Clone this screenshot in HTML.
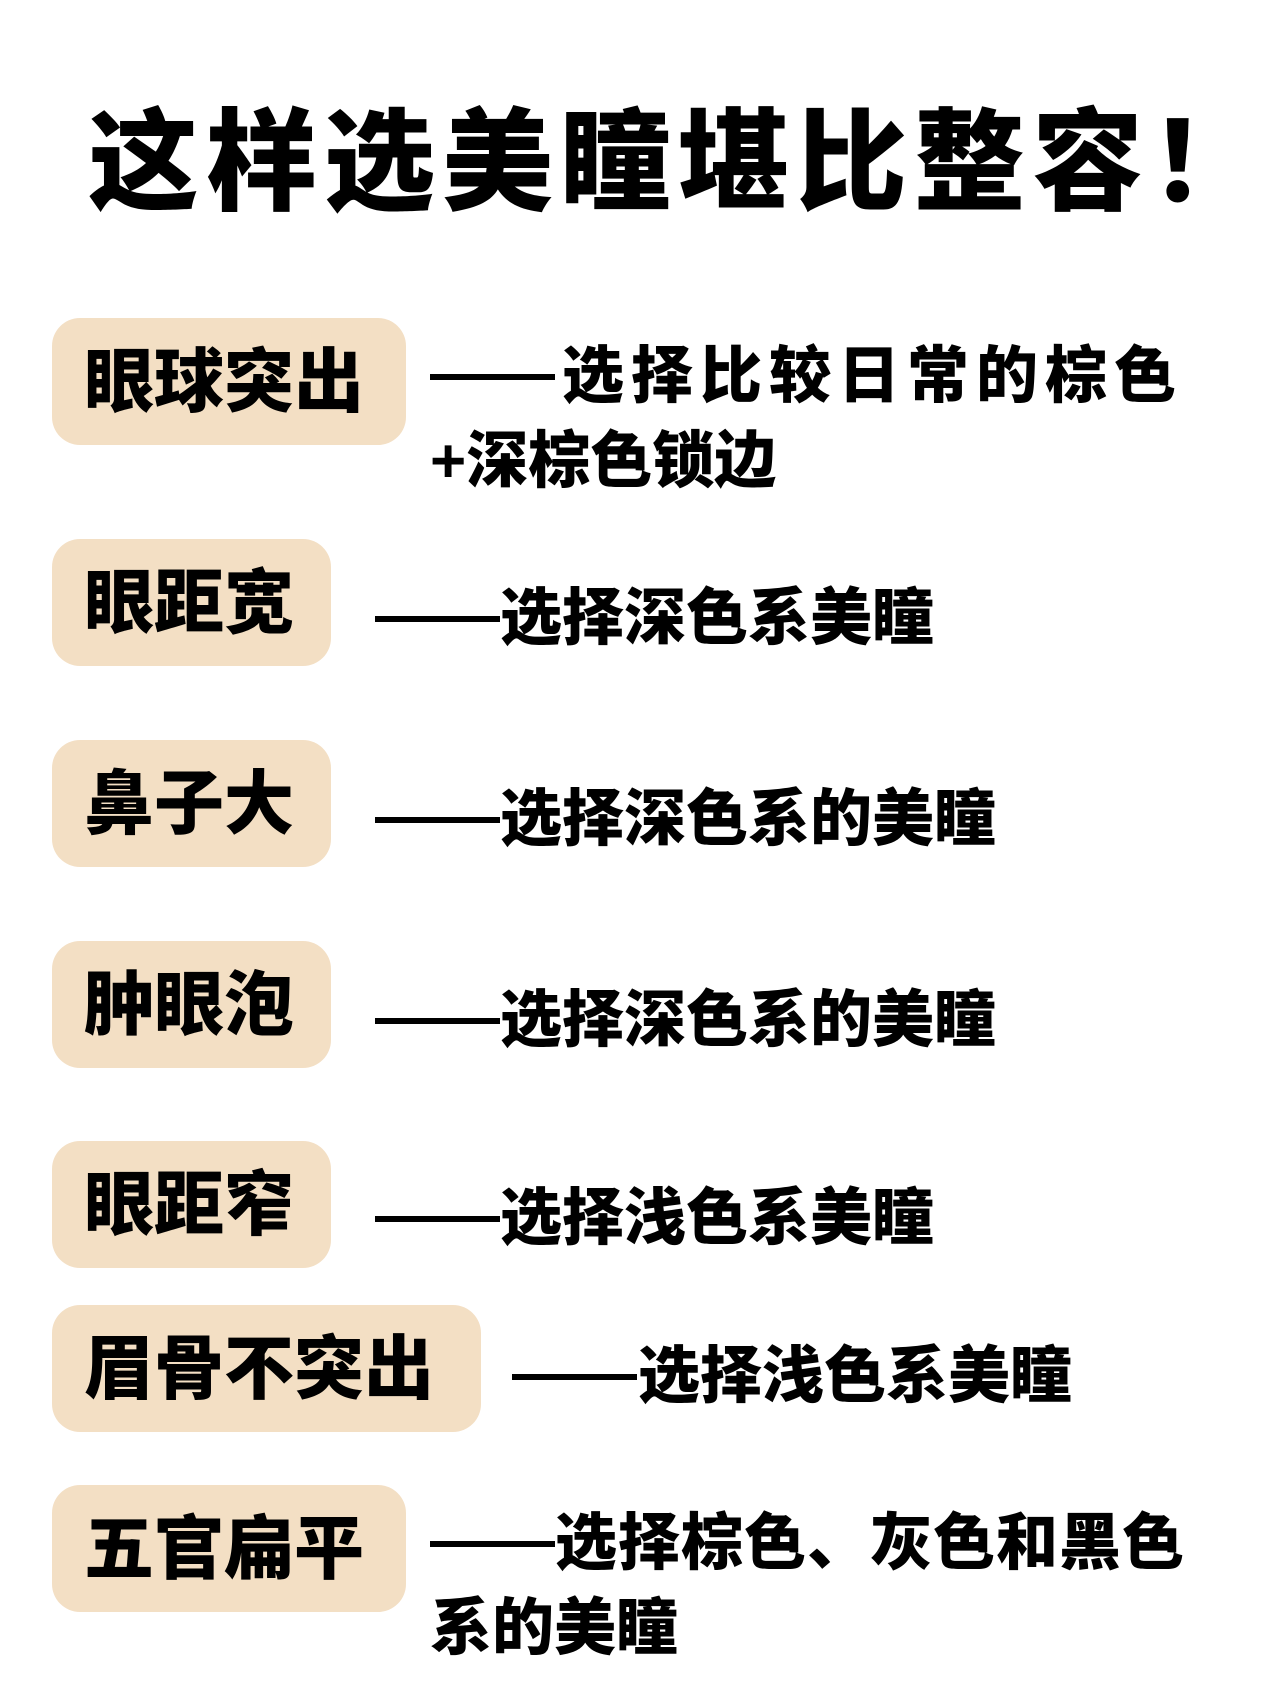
<!DOCTYPE html>
<html><head><meta charset="utf-8"><style>
html,body{margin:0;padding:0;background:#fff;}
body{width:1280px;height:1706px;position:relative;overflow:hidden;font-family:"Liberation Sans","Noto Sans CJK SC",sans-serif;font-weight:900;color:#000;}
.t{position:absolute;left:88px;top:97px;font-size:111px;letter-spacing:7px;white-space:nowrap;line-height:1.2;}
.b{position:absolute;left:52px;background:#f3dfc4;border-radius:28px;height:127px;}
.b span{position:absolute;left:32px;top:50%;transform:translateY(-50%);font-size:70px;white-space:nowrap;line-height:1;}
.d{position:absolute;height:6px;background:#000;width:125px;}
.r{position:absolute;font-size:62px;white-space:nowrap;line-height:1;}
</style></head><body>
<div class="t">这样选美瞳堪比整容！</div>

<div class="b" style="top:318px;width:354px"><span>眼球突出</span></div>
<div class="d" style="left:430px;top:374px"></div>
<div class="r" style="left:562px;top:346px;letter-spacing:7px">选择比较日常的棕色</div>
<div class="r" style="left:430px;top:431px">+深棕色锁边</div>

<div class="b" style="top:539px;width:279px"><span>眼距宽</span></div>
<div class="d" style="left:375px;top:616px"></div>
<div class="r" style="left:500px;top:588px">选择深色系美瞳</div>

<div class="b" style="top:740px;width:279px"><span>鼻子大</span></div>
<div class="d" style="left:375px;top:817px"></div>
<div class="r" style="left:500px;top:789px">选择深色系的美瞳</div>

<div class="b" style="top:941px;width:279px"><span>肿眼泡</span></div>
<div class="d" style="left:375px;top:1018px"></div>
<div class="r" style="left:500px;top:990px">选择深色系的美瞳</div>

<div class="b" style="top:1141px;width:279px"><span>眼距窄</span></div>
<div class="d" style="left:375px;top:1216px"></div>
<div class="r" style="left:500px;top:1188px">选择浅色系美瞳</div>

<div class="b" style="top:1305px;width:429px"><span>眉骨不突出</span></div>
<div class="d" style="left:512px;top:1374px"></div>
<div class="r" style="left:638px;top:1346px">选择浅色系美瞳</div>

<div class="b" style="top:1485px;width:354px"><span>五官扁平</span></div>
<div class="d" style="left:430px;top:1541px"></div>
<div class="r" style="left:555px;top:1513px;letter-spacing:1px">选择棕色、灰色和黑色</div>
<div class="r" style="left:430px;top:1598px">系的美瞳</div>
</body></html>
